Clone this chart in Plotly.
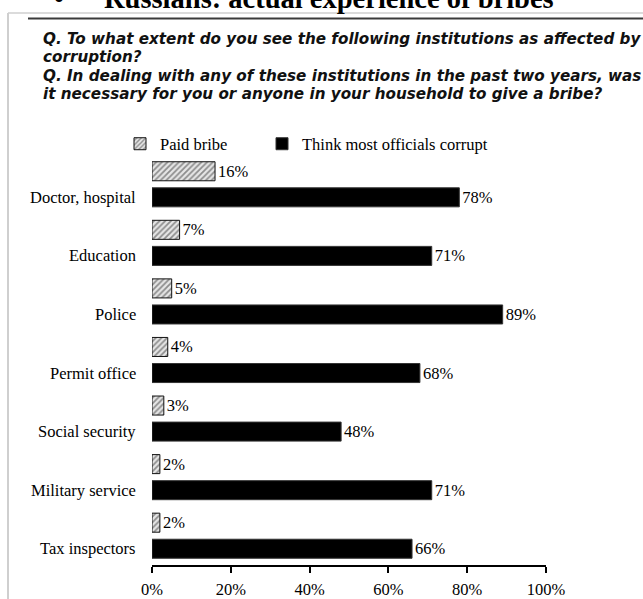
import plotly.graph_objects as go

# Survey results (percent of respondents)
institutions = ["Doctor, hospital", "Education", "Police", "Permit office",
                "Social security", "Military service", "Tax inspectors"]
paid_bribe = [16, 7, 5, 4, 3, 2, 2]
think_corrupt = [78, 71, 89, 68, 48, 71, 66]
tick_values = [0, 20, 40, 60, 80, 100]
tick_labels = ["0%", "20%", "40%", "60%", "80%", "100%"]

W, H = 643, 599
ML, MR, MT, MB = 152, 97, 155, 34
PW, PH = W - ML - MR, H - MT - MB


def px_x(p):
    return (p - ML) / PW


def px_y(p):
    return (H - MB - p) / PH


SERIF = "Liberation Serif, Times New Roman, serif"
SANS = "DejaVu Sans, Arial, sans-serif"
value_font = dict(family=SERIF, size=16.5, color="#000")

fig = go.Figure()
fig.add_trace(go.Bar(
    y=institutions, x=paid_bribe, orientation="h", name="Paid bribe",
    marker=dict(color="#e6e6e6", line=dict(color="#111", width=1),
                pattern=dict(shape="/", fgcolor="#333", bgcolor="#e6e6e6",
                             size=4, solidity=0.45)),
    text=[f"{v}%" for v in paid_bribe], textposition="outside",
    cliponaxis=False, textfont=value_font, legend="legend",
))
fig.add_trace(go.Bar(
    y=institutions, x=think_corrupt, orientation="h",
    name="Think most officials corrupt",
    marker=dict(color="#000", line=dict(color="#333", width=1)),
    text=[f"{v}%" for v in think_corrupt], textposition="outside",
    cliponaxis=False, textfont=value_font, legend="legend2",
))

annotations = []
# category labels aligned with the solid bars
for name in institutions:
    annotations.append(dict(
        x=px_x(138), xref="paper", xanchor="right",
        y=name, yref="y", yshift=-13, yanchor="middle",
        text=name, showarrow=False,
        font=dict(family=SERIF, size=16.5, color="#000"),
    ))

# slide heading (runs off the top edge of the page)
title_y = px_y(-19)
annotations.append(dict(
    x=px_x(59), xref="paper", xanchor="center",
    y=title_y, yref="paper", yanchor="top",
    text="<b>•</b>", showarrow=False,
    font=dict(family=SERIF, size=28.5, color="#000"),
))
annotations.append(dict(
    x=px_x(102), xref="paper", xanchor="left",
    y=title_y, yref="paper", yanchor="top",
    text="<b>Russians: actual experience of bribes</b>", showarrow=False,
    font=dict(family=SERIF, size=28.5, color="#000"),
))

question_lines = [
    ("Q. To what extent do you see the following institutions as affected by", 39),
    ("corruption?", 57),
    ("Q. In dealing with any of these institutions in the past two years, was", 76),
    ("it necessary for you or anyone in your household to give a bribe?", 94),
]
for line, yc in question_lines:
    annotations.append(dict(
        x=px_x(41), xref="paper", xanchor="left",
        y=px_y(yc), yref="paper", yanchor="middle",
        text="<b><i>" + line + "</i></b>", showarrow=False,
        font=dict(family=SANS, size=15.2, color="#111"),
    ))

shapes = [
    dict(type="line", xref="paper", yref="paper",
         x0=px_x(8), x1=px_x(8), y0=px_y(13), y1=px_y(H + 5),
         line=dict(color="#cfcfcf", width=2)),
    dict(type="line", xref="paper", yref="paper",
         x0=px_x(8), x1=px_x(W + 5), y0=px_y(13), y1=px_y(13),
         line=dict(color="#cfcfcf", width=1.5)),
    dict(type="line", xref="paper", yref="paper",
         x0=px_x(28), x1=px_x(W + 5), y0=px_y(18.5), y1=px_y(18.5),
         line=dict(color="#3a3a3a", width=2)),
]

legend_font = dict(family=SERIF, size=16.5, color="#000")
fig.update_layout(
    width=W, height=H,
    margin=dict(l=ML, r=MR, t=MT, b=MB, pad=0, autoexpand=False),
    paper_bgcolor="white", plot_bgcolor="white",
    barmode="group", bargap=0.11, bargroupgap=0.27,
    showlegend=True,
    legend=dict(orientation="h", x=px_x(120), xanchor="left",
                y=px_y(144), yanchor="middle", font=legend_font,
                bgcolor="rgba(0,0,0,0)", borderwidth=0),
    legend2=dict(orientation="h", x=px_x(262), xanchor="left",
                 y=px_y(144), yanchor="middle", font=legend_font,
                 bgcolor="rgba(0,0,0,0)", borderwidth=0),
    xaxis=dict(range=[0, 100], tickmode="array", tickvals=tick_values,
               ticktext=tick_labels, automargin=False,
               showgrid=False, zeroline=False, showline=True,
               linecolor="#000", linewidth=1.5, ticks="outside",
               ticklen=6, tickwidth=1.5, tickcolor="#000",
               ticklabelstandoff=2,
               tickfont=dict(family=SERIF, size=16.5, color="#000"),
               fixedrange=True),
    yaxis=dict(categoryorder="array", categoryarray=institutions,
               autorange="reversed", showticklabels=False, automargin=False,
               showgrid=False, zeroline=False, showline=False,
               ticks="", fixedrange=True),
    annotations=annotations,
    shapes=shapes,
)

fig.write_html("out.html")
